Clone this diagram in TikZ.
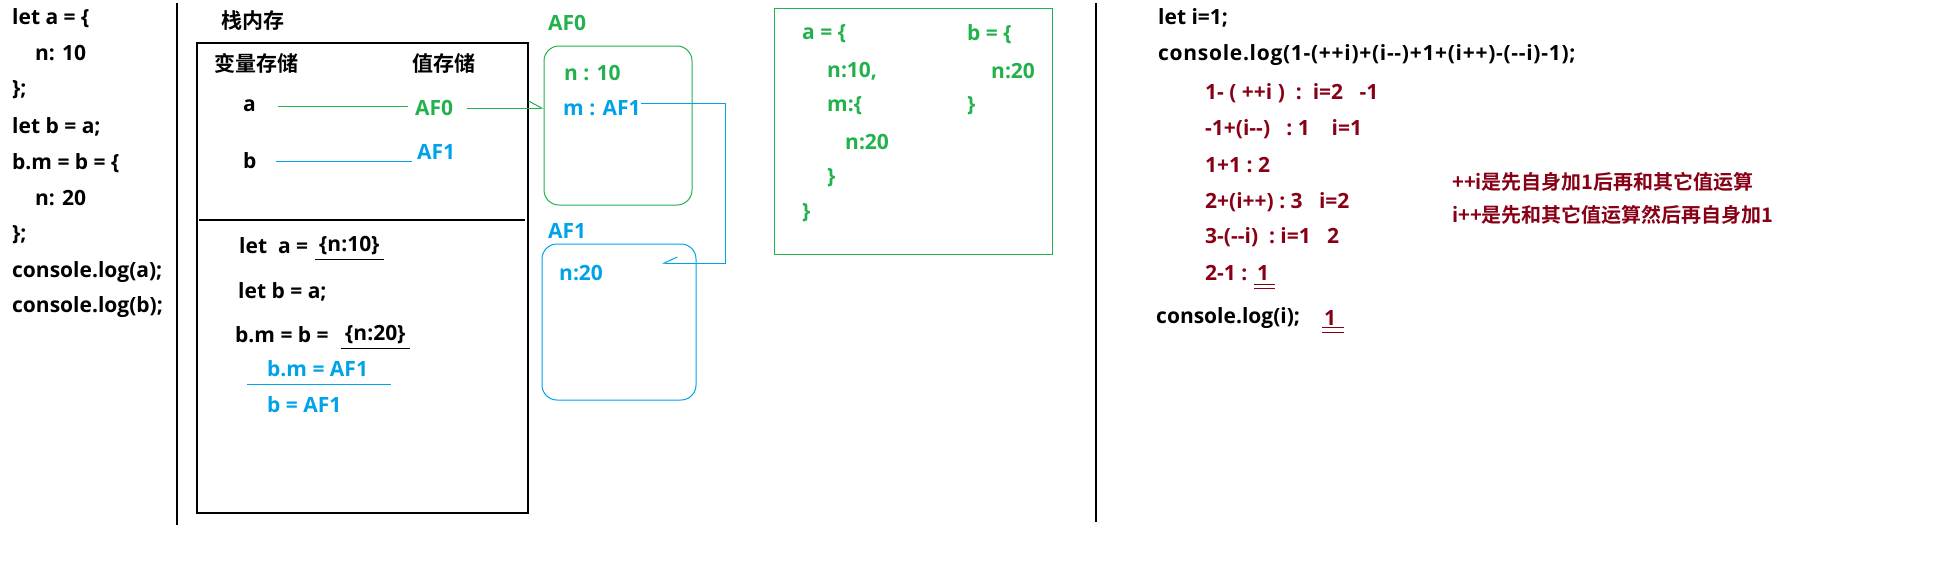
\documentclass[tikz,border=0pt]{standalone}
\usepackage{fontspec}
\setmainfont{Open Sans}
\newfontfamily\cjk{Noto Sans CJK SC}[BoldFont={Noto Sans CJK SC Bold}]
\usetikzlibrary{arrows.meta,positioning}
\usepackage{xcolor}
\definecolor{pgreen}{HTML}{22B14C}
\definecolor{pblue}{HTML}{00A2E8}
\definecolor{pred}{HTML}{880015}
\tikzset{
  jsline/.style={anchor=west,inner sep=0pt,font=\fontsize{21}{25}\selectfont\bfseries},
  zhline/.style={anchor=west,inner sep=0pt,font=\cjk\bfseries\fontsize{21}{25}\selectfont},
  kline/.style={black,line width=1.2pt},
  gline/.style={pgreen,line width=1pt},
  bline/.style={pblue,line width=1pt},
  rline/.style={pred,line width=1pt},
  heap/.style={draw,rounded corners=15pt,line width=1pt,inner sep=0pt},
  barb/.style={-{Straight Barb[harpoon,length=13pt,width=14pt]}},
  barbswap/.style={-{Straight Barb[harpoon,swap,length=13pt,width=12pt]}}
}

\begin{document}
\begin{tikzpicture}[x=1pt,y=-1pt]
		\useasboundingbox (0,0) rectangle (1948,576);
		\draw[kline] (177,3) -- (177,525);% left separator
		\draw[kline] (1096,3) -- (1096,522);% right separator

		\foreach \xo/\yo/\txt [count=\k] in {12/18/{let a = \{}, 35/53/{n: 10}, 12/90/{\};},
		  12/127/{let b = a;}, 12/163/{b.m = b = \{}, 35/198/{n: 20}, 12/235/{\};},
		  12/272/{console.log(a);}, 12/307/{console.log(b);}}{
			\node[jsline] (src\k) at (\xo,\yo) {\txt};
		}

		% stack memory
		\node[zhline] (stack) at (221,21) {栈内存};
		\draw[kline] (197,43) rectangle (528,513);
		\draw[kline] (199,220) -- (525,220);
		\node[zhline] (varcol) at (214,63) {变量存储};
		\node[zhline] (valcol) at (412,63) {值存储};
		\node[jsline] (va) at (243,106) {a};
		\node[jsline] (vb) at (243,161) {b};
		\node[jsline,pgreen] (pa) at (415,108) {AF0};
		\node[jsline,pblue] (pb) at (417,152) {AF1};
		\draw[gline,shorten <=22pt,shorten >=7pt] (va.east) -- (va.east -| pa.west);
		\draw[bline,shorten <=19pt,shorten >=5pt] (vb.east) -- (vb.east -| pb.west);

		\node[jsline] (leta) at (239,246) {let~~a =};
		\node[jsline] (obja) at (319,246) {\{n:10\}};
		\draw[kline] ([xshift=-4pt,yshift=-4pt]obja.south west) -- ([xshift=4pt,yshift=-4pt]obja.south east);
		\node[jsline] (letb) at (238,292) {let b = a;};
		\node[jsline] (bmb) at (235,335) {b.m = b~=};
		\node[jsline] (objb) at (345,335) {\{n:20\}};
		\draw[kline] ([xshift=-4pt,yshift=-4pt]objb.south west) -- ([xshift=4pt,yshift=-4pt]objb.south east);
		\node[jsline,pblue] (bmaf) at (267,369) {b.m = AF1};
		\node[jsline,pblue] (baf) at (267,405) {b = AF1};
		\draw[bline] (247,384) -- (391,384);

		% heap memory
		\node[jsline,pgreen] (lab0) at (548,23) {AF0};
		\node[heap,pgreen,minimum width=148pt,minimum height=159pt] (hp0) at (618,125.5) {};
		\node[jsline,pgreen] (nten) at (564,73) {n : 10};
		\node[jsline,pblue] (mref) at (563,108) {m : AF1};
		\node[jsline,pblue] (lab1) at (548,231) {AF1};
		\node[heap,pblue,minimum width=154pt,minimum height=156pt] (hp1) at (619,322) {};
		\node[jsline,pblue] (ntw) at (559,273) {n:20};
		\draw[gline,barb,shorten <=14pt] (pa.east) -- (pa.east -| hp0.west);
		\coordinate (turn) at (725,103);
		\coordinate (af1in) at (662,263);
		\draw[bline,barbswap] (mref.east |- turn) -- (turn) |- (af1in);

		% resulting objects
		\draw[gline] (774,8) rectangle (1052,254);
		\foreach \xo/\yo/\txt [count=\k] in {802/34/{a = \{}, 827/71/{n:10,}, 827/106/{m:\{},
		  845/142/{n:20}, 827/178/{\}}, 802/213/{\}}, 967/34/{b = \{}, 991/71/{n:20}, 967/106/{\}}}{
			\node[jsline,pgreen] (obj\k) at (\xo,\yo) {\txt};
		}

		% i++ / ++i
		\node[jsline] (leti) at (1158,18) {let i=1;};
		\node[jsline] (logsum) at (1158,55) {\addfontfeature{LetterSpace=3.4}console.log(1-(++i)+(i-{}-)+1+(i++)-(-{}-i)-1);};
		\foreach \yo/\txt [count=\k] in {93/{1-~(~++i~)~~:~~i=2~~~-1}, 129/{-1+(i-{}-)~~~:~1~~~~i=1},
		  165/{1+1~:~2}, 202/{2+(i++)~:~3~~~i=2}, 237/{3-(-{}-i)~~:~i=1~~~2}, 273/{2-1~:}}{
			\node[jsline,pred] (step\k) at (1205,\yo) {\txt};
		}
		\node[jsline,pred] (one) at (1257,273) {1};
		\draw[rline] ([xshift=-3pt,yshift=-3.5pt]one.south west) -- ++(21,0);
		\draw[rline] ([xshift=-3pt,yshift=-7.5pt]one.south west) -- ++(21,0);
		\node[jsline] (logi) at (1156,318) {console.log(i);};
		\node[jsline,pred] (res) at (1324,318) {1};
		\draw[rline] ([xshift=-2pt,yshift=-1.5pt]res.south west) -- ++(22,0);
		\draw[rline] ([xshift=-2pt,yshift=-6.5pt]res.south west) -- ++(22,0);
		\node[zhline,pred,font=\cjk\bfseries\fontsize{20}{24}\selectfont] (note1) at (1452,182) {++i是先自身加1后再和其它值运算};
		\node[zhline,pred,font=\cjk\bfseries\fontsize{20}{24}\selectfont] (note2) at (1452,215) {i++是先和其它值运算然后再自身加1};
	  \end{tikzpicture}
\end{document}
